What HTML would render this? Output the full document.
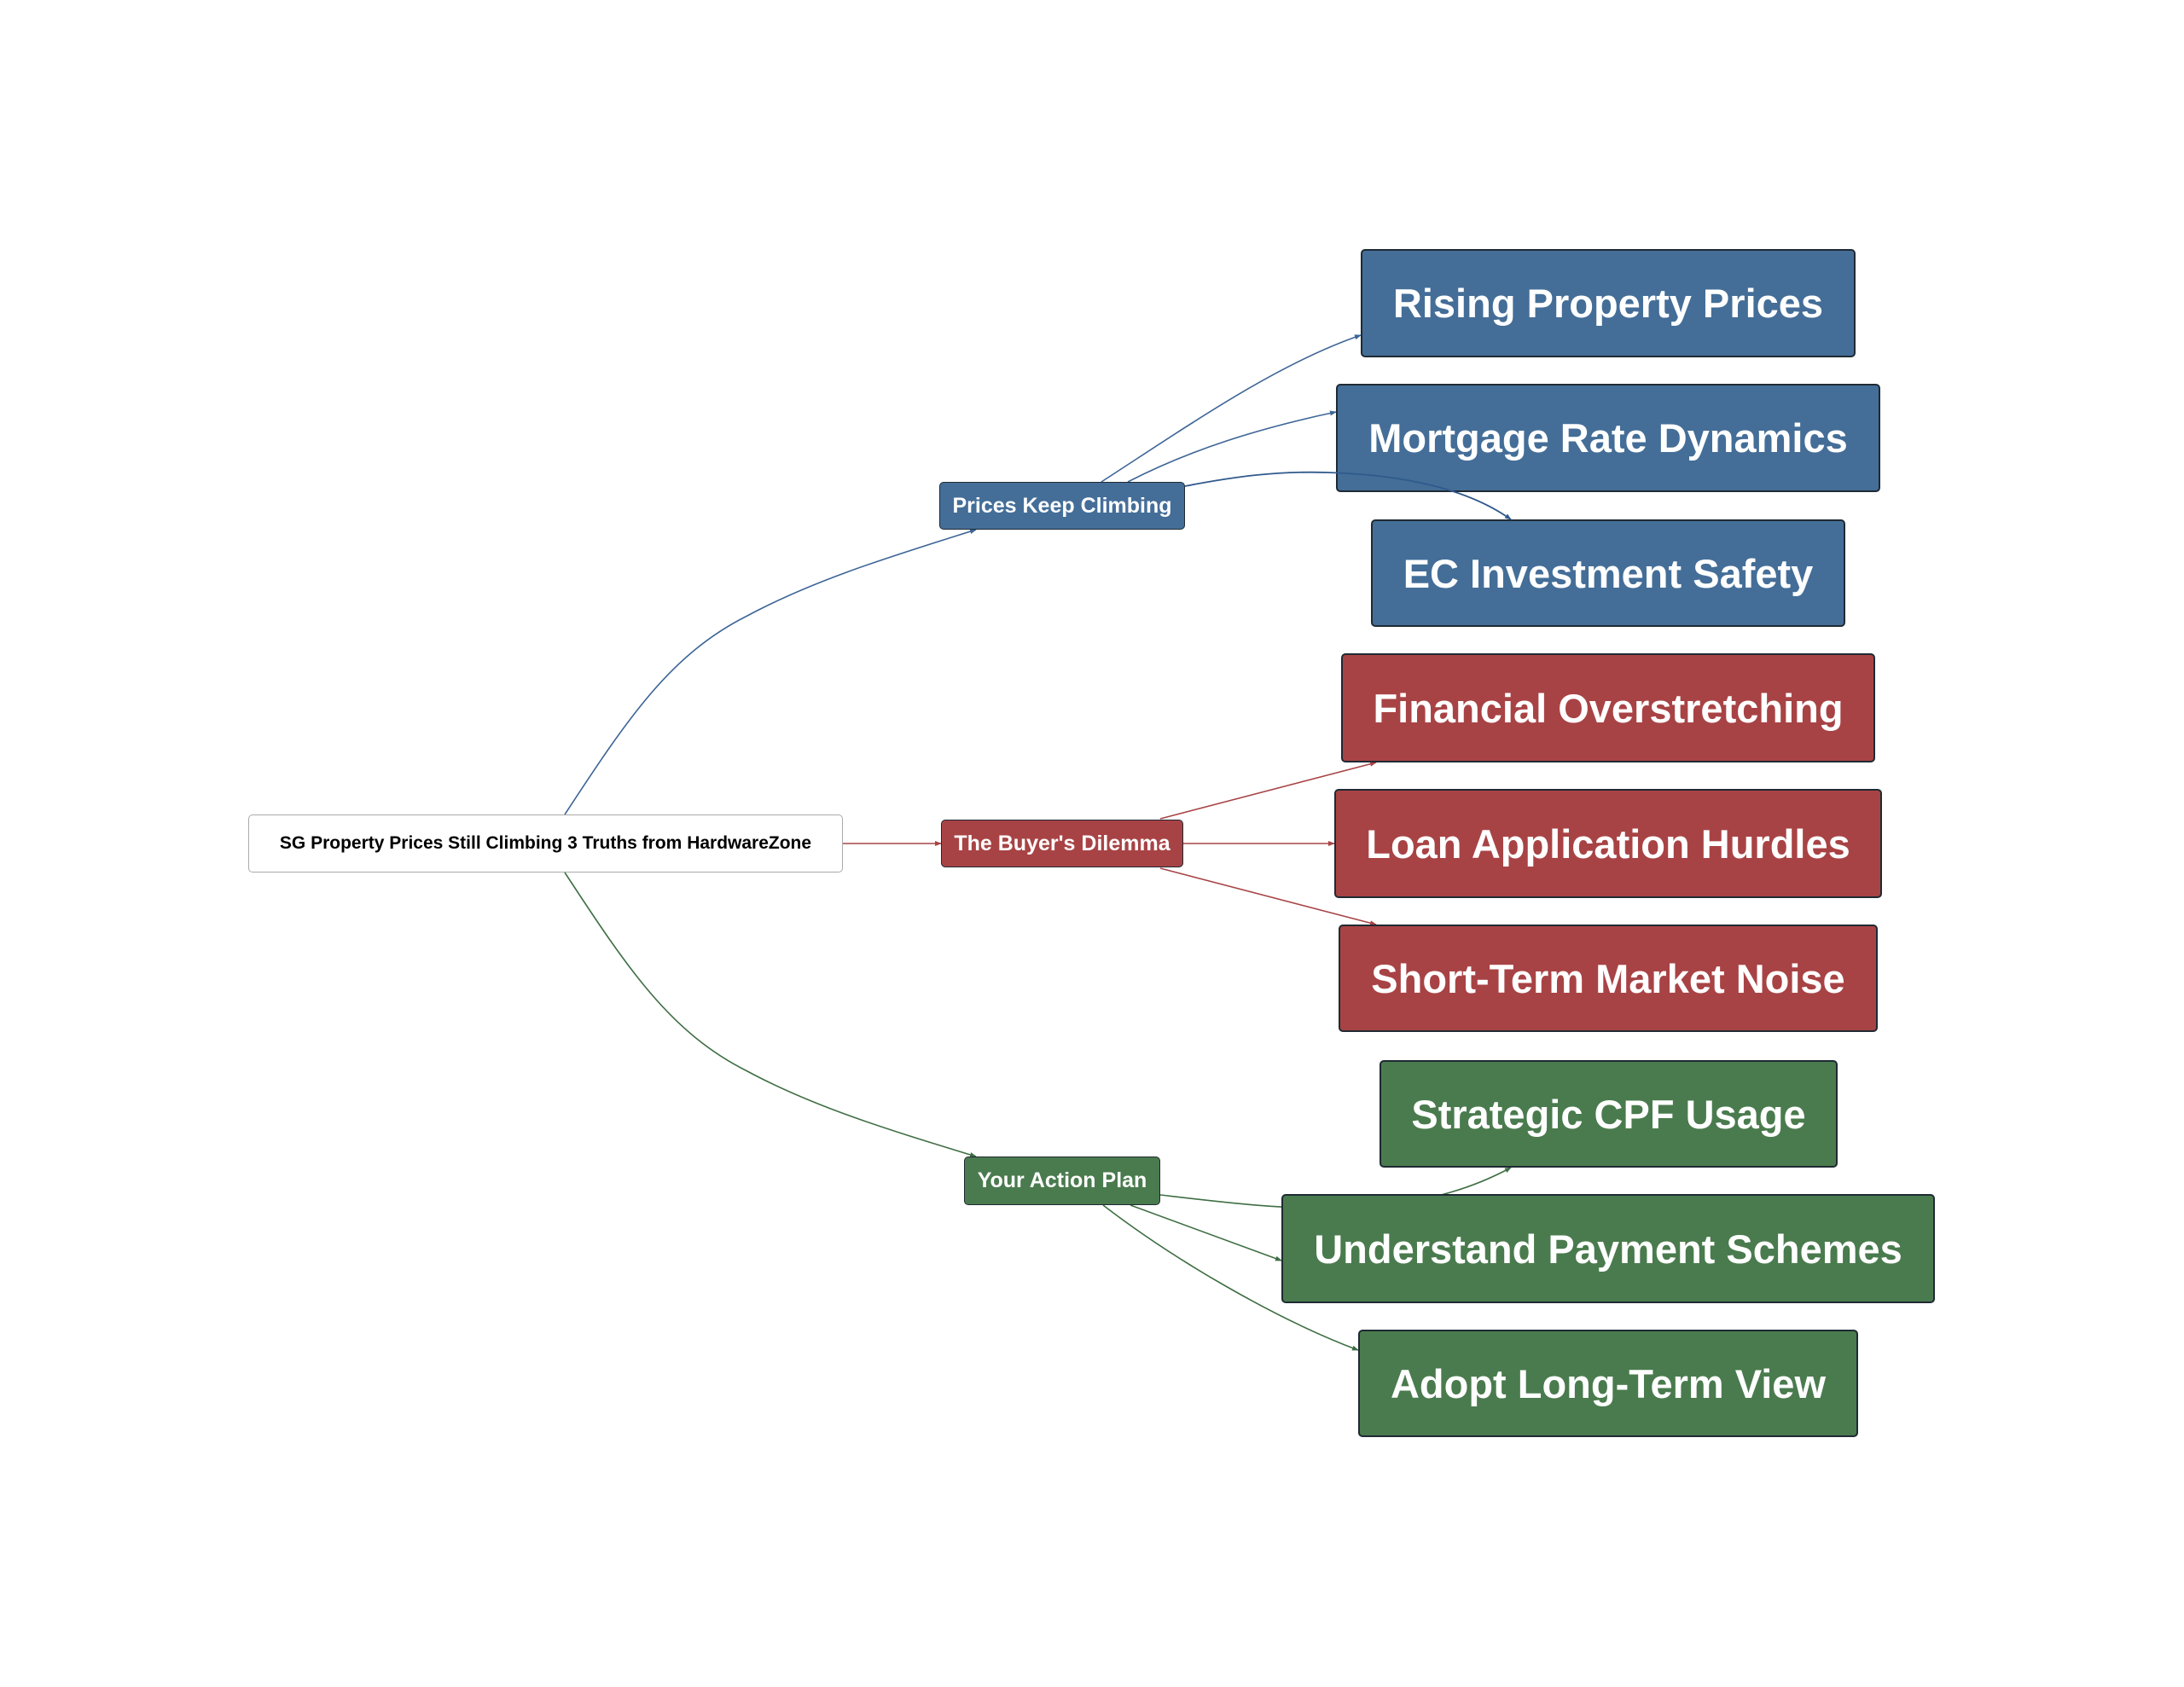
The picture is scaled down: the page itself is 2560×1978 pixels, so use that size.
<!DOCTYPE html>
<html><head><meta charset="utf-8"><style>
html,body{margin:0;padding:0;background:#fff;}
body{width:2560px;height:1978px;position:relative;overflow:hidden;font-family:"Liberation Sans",Arial,sans-serif;}
#w{position:absolute;left:-4px;top:-3px;width:2560px;height:1978px;}
svg{position:absolute;left:0;top:0;}
.n{position:absolute;box-sizing:border-box;display:flex;align-items:center;justify-content:center;color:#fff;font-weight:bold;border:2px solid #1f2a33;border-radius:5px;white-space:nowrap;}
.b{background:#446e98;}.r{background:#a84345;}.g{background:#4a7b4e;}
.big{font-size:47px;}
.mid{font-size:25px;border-width:1.5px;}
</style></head><body><div id="w">
<svg width="2560" height="1978" viewBox="0 0 2560 1978">
<defs>
<marker id="ab" markerWidth="8" markerHeight="8" refX="7" refY="4" orient="auto" markerUnits="userSpaceOnUse"><path d="M0,1 L8,4 L0,7z" fill="#3d6597"/></marker>
<marker id="ar" markerWidth="8" markerHeight="8" refX="7" refY="4" orient="auto" markerUnits="userSpaceOnUse"><path d="M0,1 L8,4 L0,7z" fill="#a84345"/></marker>
<marker id="ag" markerWidth="8" markerHeight="8" refX="7" refY="4" orient="auto" markerUnits="userSpaceOnUse"><path d="M0,1 L8,4 L0,7z" fill="#3f6e43"/></marker>
</defs>
<g fill="none" stroke-width="1.6">
<path d="M666 958 C 740 845 790 770 880 725 C 960 682 1050 655 1148 624" stroke="#3d6597" marker-end="url(#ab)"/>
<path d="M666 1026 C 740 1139 790 1214 880 1259 C 960 1302 1050 1329 1148 1359" stroke="#3f6e43" marker-end="url(#ag)"/>
<path d="M992 992 L1107 992" stroke="#a84345" marker-end="url(#ar)"/>
<path d="M1295 568 C 1400 500 1500 430 1599 396" stroke="#3d6597" marker-end="url(#ab)"/>
<path d="M1326 568 C 1400 530 1480 505 1570 486" stroke="#3d6597" marker-end="url(#ab)"/>
<path d="M1364 963 L1617 897" stroke="#a84345" marker-end="url(#ar)"/>
<path d="M1391 992 L1568 992" stroke="#a84345" marker-end="url(#ar)"/>
<path d="M1364 1021 L1617 1087" stroke="#a84345" marker-end="url(#ar)"/>
<path d="M1364 1404 C 1500 1420 1650 1440 1775 1372" stroke="#3f6e43" marker-end="url(#ag)"/>
<path d="M1329 1416 L1506 1481" stroke="#3f6e43" marker-end="url(#ag)"/>
<path d="M1297 1416 C 1380 1480 1500 1550 1596 1586" stroke="#3f6e43" marker-end="url(#ag)"/>
</g>
</svg>
<div class="n" style="left:295px;top:958px;width:697px;height:68px;background:#fff;color:#000;border:1.5px solid #aaa;font-size:21px;">SG Property Prices Still Climbing 3 Truths from HardwareZone</div>
<div class="n b mid" style="left:1105px;top:568px;width:288px;height:56px;">Prices Keep Climbing</div>
<div class="n r mid" style="left:1107px;top:964px;width:284px;height:56px;">The Buyer's Dilemma</div>
<div class="n g mid" style="left:1134px;top:1359px;width:230px;height:57px;">Your Action Plan</div>
<div class="n b big" style="left:1599px;top:295px;width:580px;height:127px;">Rising Property Prices</div>
<div class="n b big" style="left:1570px;top:453px;width:638px;height:127px;">Mortgage Rate Dynamics</div>
<div class="n b big" style="left:1611px;top:612px;width:556px;height:126px;">EC Investment Safety</div>
<div class="n r big" style="left:1576px;top:769px;width:626px;height:128px;">Financial Overstretching</div>
<div class="n r big" style="left:1568px;top:928px;width:642px;height:128px;">Loan Application Hurdles</div>
<div class="n r big" style="left:1573px;top:1087px;width:632px;height:126px;">Short-Term Market Noise</div>
<div class="n g big" style="left:1621px;top:1246px;width:537px;height:126px;">Strategic CPF Usage</div>
<div class="n g big" style="left:1506px;top:1403px;width:766px;height:128px;">Understand Payment Schemes</div>
<div class="n g big" style="left:1596px;top:1562px;width:586px;height:126px;">Adopt Long-Term View</div>
<svg width="2560" height="1978" viewBox="0 0 2560 1978" style="pointer-events:none">
<defs><marker id="ab2" markerWidth="8" markerHeight="8" refX="7" refY="4" orient="auto" markerUnits="userSpaceOnUse"><path d="M0,1 L8,4 L0,7z" fill="#2f5a8c"/></marker></defs>
<path d="M1393 573 C 1450 562 1500 555 1560 557 C 1660 560 1730 580 1775 612" fill="none" stroke="#2f5a8c" stroke-width="1.8" marker-end="url(#ab2)"/>
</svg>
</div></body></html>
